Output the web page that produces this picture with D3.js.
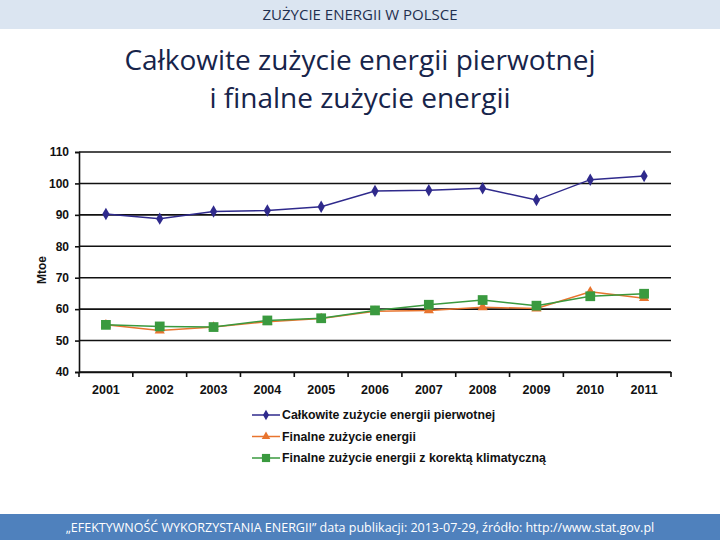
<!DOCTYPE html>
<html><head><meta charset="utf-8">
<script src="https://cdn.jsdelivr.net/npm/d3@7"></script>
<style>body{margin:0;background:#fff}svg{display:block}</style>
</head><body>
<script>
const years = ["2001","2002","2003","2004","2005","2006","2007","2008","2009","2010","2011"];
const primary = [90.3,88.8,91.1,91.4,92.6,97.6,97.8,98.5,94.7,101.2,102.4];
const finalE = [55.0,53.2,54.3,56.0,57.0,59.3,59.6,60.6,60.2,65.5,63.5];
const finalCorr = [55.0,54.5,54.3,56.4,57.1,59.6,61.4,62.9,61.1,64.1,64.9];
const yTicks = [40,50,60,70,80,90,100,110];
const seriesNames = ["Całkowite zużycie energii pierwotnej","Finalne zużycie energii","Finalne zużycie energii z korektą klimatyczną"];

const W=720,H=540;
const svg=d3.select("body").append("svg").attr("width",W).attr("height",H);
// header band
svg.append("rect").attr("x",0).attr("y",0).attr("width",W).attr("height",29).attr("fill","#dbe5f1");
svg.append("text").attr("x",360).attr("y",20).attr("text-anchor","middle")
  .attr("font-family","Open Sans, sans-serif").attr("font-size",15).attr("fill","#1f2f4f").text("ZUŻYCIE ENERGII W POLSCE");
// title
const tf="Open Sans, sans-serif";
svg.append("text").attr("x",360).attr("y",70).attr("text-anchor","middle").attr("font-family",tf).attr("font-size",28).attr("fill","#17244a").text("Całkowite zużycie energii pierwotnej");
svg.append("text").attr("x",360).attr("y",108).attr("text-anchor","middle").attr("font-family",tf).attr("font-size",28).attr("fill","#17244a").text("i finalne zużycie energii");
// footer
svg.append("rect").attr("x",0).attr("y",514).attr("width",W).attr("height",26).attr("fill","#4f81bd");
svg.append("text").attr("x",360).attr("y",532).attr("text-anchor","middle").attr("font-family","Open Sans, sans-serif").attr("font-size",12.5).attr("fill","#fff")
  .text("„EFEKTYWNOŚĆ WYKORZYSTANIA ENERGII” data publikacji: 2013-07-29, źródło: http://www.stat.gov.pl");

const x=d3.scaleBand().domain(years).range([79,671]);
const y=d3.scaleLinear().domain([40,110]).range([372,152]);
const af="Liberation Sans, Arial, sans-serif";

const g=svg.append("g");
// grid
g.selectAll("line.grid").data(yTicks).join("line").attr("class","grid")
  .attr("x1",79).attr("x2",671).attr("y1",d=>y(d)).attr("y2",d=>y(d)).attr("stroke","#111").attr("stroke-width",1.6);
// y axis
const ya=g.append("g").attr("transform","translate(79,0)").call(d3.axisLeft(y).tickValues(yTicks).tickSize(4).tickPadding(6));
ya.select(".domain").attr("stroke","#111").attr("stroke-width",1.6);
ya.selectAll(".tick line").attr("stroke","#111").attr("stroke-width",1.6);
ya.selectAll("text").attr("font-family",af).attr("font-size",12).attr("font-weight","bold").attr("fill","#111");
// x axis
const xa=g.append("g").attr("transform","translate(0,372)").call(d3.axisBottom(x).tickSize(0).tickPadding(13));
xa.select(".domain").attr("stroke","#111").attr("stroke-width",1.6);
xa.selectAll("text").attr("font-family",af).attr("font-size",12.5).attr("font-weight","bold").attr("fill","#111");
const bounds=years.map(d=>x(d)).concat([x.range()[1]]);
g.selectAll("line.xt").data(bounds).join("line").attr("class","xt")
  .attr("x1",d=>d).attr("x2",d=>d).attr("y1",372).attr("y2",377).attr("stroke","#111").attr("stroke-width",1.6);
// y title
svg.append("text").attr("transform","translate(46,270) rotate(-90)").attr("text-anchor","middle")
  .attr("font-family",af).attr("font-size",12).attr("font-weight","bold").attr("fill","#111").text("Mtoe");

const cx=d=>x(d)+x.bandwidth()/2;
const series=[
  {name:seriesNames[0],vals:primary,color:"#2f2a8c",shape:d3.symbolDiamond,size:45},
  {name:seriesNames[1],vals:finalE,color:"#e8742e",shape:d3.symbolTriangle,size:45},
  {name:seriesNames[2],vals:finalCorr,color:"#3a9a3f",shape:d3.symbolSquare,size:95}
];
series.forEach(s=>{
  const line=d3.line().x((d,i)=>cx(years[i])).y(d=>y(d));
  g.append("path").datum(s.vals).attr("d",line).attr("fill","none").attr("stroke",s.color).attr("stroke-width",1.5);
  g.selectAll(null).data(s.vals).join("path")
    .attr("d",d3.symbol().type(s.shape).size(s.size))
    .attr("transform",(d,i)=>`translate(${cx(years[i])},${y(d)})`).attr("fill",s.color);
});
// legend
series.forEach((s,i)=>{
  const ly=415+i*21.5;
  svg.append("line").attr("x1",252).attr("x2",280).attr("y1",ly).attr("y2",ly).attr("stroke",s.color).attr("stroke-width",1.5);
  svg.append("path").attr("d",d3.symbol().type(s.shape).size(s.size*0.7)).attr("transform",`translate(266,${ly})`).attr("fill",s.color);
  svg.append("text").attr("x",282).attr("y",ly+4).attr("font-family",af).attr("font-size",12.3).attr("font-weight","bold").attr("fill","#111").text(s.name);
});
</script>
</body></html>
